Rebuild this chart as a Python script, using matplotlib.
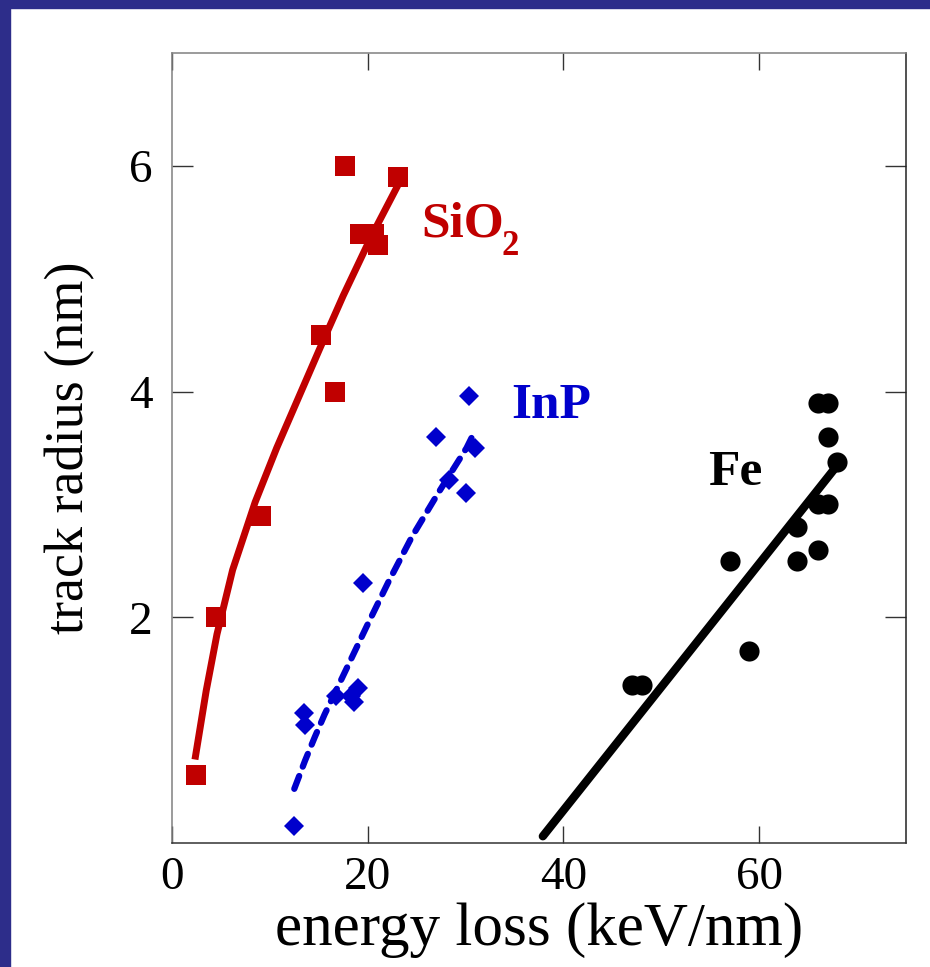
import matplotlib.pyplot as plt
from matplotlib.patches import Rectangle

# measured points
sio2_x = [2.5, 4.5, 9.1, 15.2, 16.7, 17.7, 19.2, 20.6, 21.1, 23.1]
sio2_y = [0.6, 2.0, 2.9, 4.5, 4.0, 6.0, 5.4, 5.4, 5.3, 5.9]
inp_x = [12.5, 13.5, 13.6, 16.8, 18.3, 18.6, 19.0, 19.5, 27.0, 28.3, 30.0, 30.4, 31.0]
inp_y = [0.15, 1.15, 1.05, 1.3, 1.3, 1.25, 1.37, 2.3, 3.6, 3.22, 3.1, 3.96, 3.5]
fe_x = [47.0, 48.0, 57.0, 59.0, 63.9, 63.9, 66.0, 66.0, 67.0, 66.0, 67.0, 67.0, 68.0]
fe_y = [1.4, 1.4, 2.5, 1.7, 2.8, 2.5, 2.6, 3.0, 3.0, 3.9, 3.9, 3.6, 3.38]

# fitted curves
sio2_fit_x = [2.35, 3.5, 4.6, 6.2, 8.5, 10.7, 12.8, 15.1, 17.5, 20.4, 23.1]
sio2_fit_y = [0.74, 1.35, 1.85, 2.42, 3.02, 3.5, 3.92, 4.38, 4.85, 5.38, 5.83]
inp_fit_x = [12.5, 13.6, 14.6, 15.6, 17.7, 19.9, 22.1, 24.5, 27.2, 30.1, 30.9]
inp_fit_y = [0.48, 0.73, 0.94, 1.14, 1.52, 1.92, 2.31, 2.71, 3.1, 3.5, 3.64]
fe_fit_x = [37.9, 68.2]
fe_fit_y = [0.06, 3.37]

red = '#C00000'
blue = '#0000CC'

plt.rcParams['font.family'] = ['Liberation Serif', 'DejaVu Serif']

fig = plt.figure(figsize=(9.3, 9.67), dpi=100)
fig.patches.append(Rectangle((0, 0.992), 1, 0.008, transform=fig.transFigure,
                             color='#2D2D8A', zorder=0))
fig.patches.append(Rectangle((0, 0), 0.0108, 1, transform=fig.transFigure,
                             color='#2D2D8A', zorder=0))

ax = fig.add_axes([0.1849, 0.1282, 0.7892, 0.817])

ax.plot(sio2_fit_x, sio2_fit_y, color=red, lw=5, solid_capstyle='butt')
ax.plot(sio2_x, sio2_y, 's', color=red, ms=14.5, mew=0)
ax.plot(inp_fit_x, inp_fit_y, color=blue, lw=4.5, dashes=(2.2, 1.6),
        dash_capstyle='round')
ax.plot(inp_x, inp_y, 'D', color=blue, ms=10, mew=0)
ax.plot(fe_fit_x, fe_fit_y, color='black', lw=6, solid_capstyle='round')
ax.plot(fe_x, fe_y, 'o', color='black', ms=14.5, mew=0)

# labels (subscript drawn as its own text to sit low like the original)
ax.text(25.5, 5.37, 'SiO', color=red, fontsize=37, fontweight='bold',
        ha='left', va='baseline')
ax.text(33.7, 5.21, '2', color=red, fontsize=25, fontweight='bold',
        ha='left', va='baseline')
ax.text(34.7, 3.77, 'InP', color=blue, fontsize=37, fontweight='bold',
        ha='left', va='baseline')
ax.text(54.75, 3.17, 'Fe', color='black', fontsize=37, fontweight='bold',
        ha='left', va='baseline')

ax.set_xlim(0, 75)
ax.set_ylim(0, 7)
ax.set_xticks([0, 20, 40, 60])
ax.set_yticks([2, 4, 6])
ax.tick_params(axis='both', direction='in', top=True, right=True,
               labelsize=34, width=1, color='#333333')
ax.tick_params(axis='x', length=12.5, pad=10)
ax.tick_params(axis='y', length=15, pad=14)

ax.spines['left'].set_color('#808080')
ax.spines['top'].set_color('#808080')
ax.spines['right'].set_color('#222222')
ax.spines['bottom'].set_color('#333333')
for s in ax.spines.values():
    s.set_linewidth(1.1)

ax.set_xlabel('energy loss (keV/nm)', fontsize=44)
ax.set_ylabel('track radius (nm)', fontsize=39)
ax.xaxis.set_label_coords(0.5, -0.075)
ax.yaxis.set_label_coords(-0.105, 0.5)

fig.savefig('out.png', dpi=100)
